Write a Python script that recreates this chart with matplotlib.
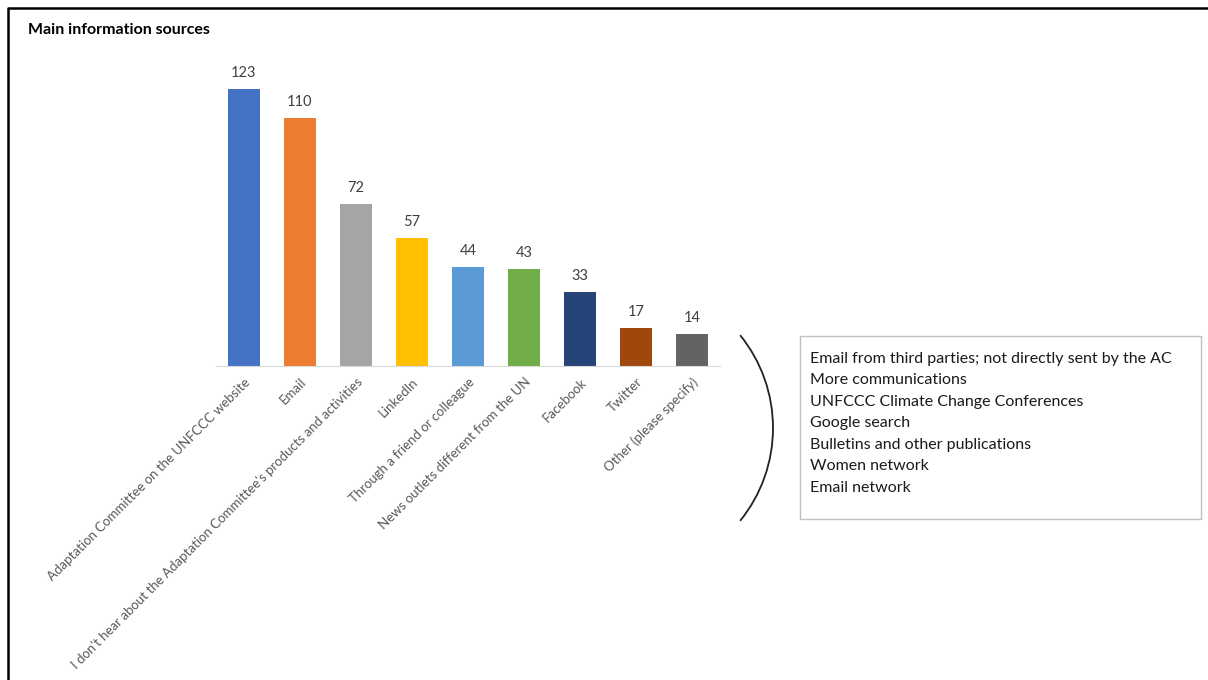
import matplotlib.pyplot as plt
from matplotlib.patches import Arc, Rectangle

plt.rcParams['font.family'] = ['Lato', 'DejaVu Sans']

# данные
sources = ["Adaptation Committee on the UNFCCC website", "Email",
           "I don't hear about the Adaptation Committee's products and activities",
           "LinkedIn", "Through a friend or colleague",
           "News outlets different from the UN", "Facebook", "Twitter",
           "Other (please specify)"]
counts = [123, 110, 72, 57, 44, 43, 33, 17, 14]
colors = ["#4472C4", "#ED7D31", "#A5A5A5", "#FFC000", "#5B9BD5",
          "#70AD47", "#264478", "#9E480E", "#636363"]
other_answers = ["Email from third parties; not directly sent by the AC",
                 "More communications", "UNFCCC Climate Change Conferences",
                 "Google search", "Bulletins and other publications",
                 "Women network", "Email network"]

W, H = 1208, 680
fig = plt.figure(figsize=(W / 100, H / 100), dpi=100)

# основная диаграмма
ymax = 135
ax = fig.add_axes([216 / W, 1 - 366 / H, 504 / W, ymax * 2.252 / H])
x = range(len(counts))
bars = ax.bar(x, counts, width=0.57, color=colors)
ax.set_xlim(-0.5, len(counts) - 0.5)
ax.set_ylim(0, ymax)
for b, v in zip(bars, counts):
    ax.annotate(str(v), (b.get_x() + b.get_width() / 2, v), xytext=(0, 6.5),
                textcoords="offset points", ha="center", va="bottom",
                fontsize=10.5, color="#404040")
for s in ["top", "right", "left"]:
    ax.spines[s].set_visible(False)
ax.spines["bottom"].set_color("#d9d9d9")
ax.set_yticks([])
ax.set_xticks(list(x))
ax.set_xticklabels(sources, rotation=45, ha="right", rotation_mode="anchor",
                   fontsize=9.5, color="#595959")
ax.tick_params(axis="x", length=0, pad=7)

# оверлей в пикселях: рамка, скобка, список
ov = fig.add_axes([0, 0, 1, 1], zorder=-1)
ov.set_xlim(0, W)
ov.set_ylim(H, 0)
ov.axis("off")
ov.plot([8, 8, W], [H, 8, 8], color="black", lw=1.8)
ov.add_patch(Arc((625.5, 428), 295, 295, theta1=-39, theta2=39,
                 color="#222222", lw=1.3))
ov.add_patch(Rectangle((800, 336), 401, 183, fill=False,
                       edgecolor="#bfbfbf", lw=1))
for i, t in enumerate(other_answers):
    ov.text(810, 359 + i * 21.5, t, fontsize=11.5, color="#1a1a1a", va="center")

fig.text(28 / W, 1 - 30 / H, "Main information sources", fontsize=11.5,
         fontweight="bold", va="center")

fig.savefig("out.png", dpi=100)
